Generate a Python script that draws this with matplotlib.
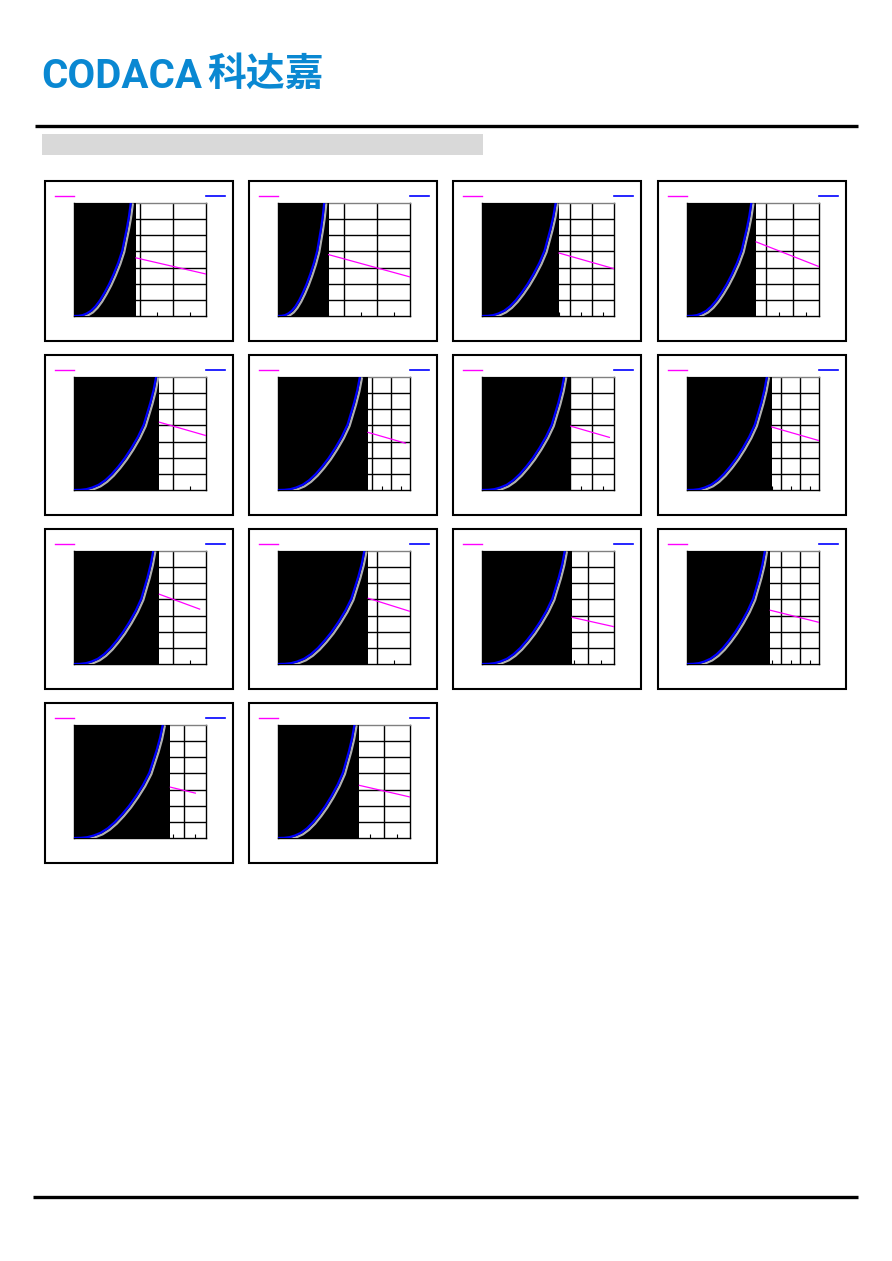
import numpy as np
import matplotlib
matplotlib.use("Agg")
import matplotlib.pyplot as plt
import matplotlib.transforms as mtransforms
from matplotlib.patches import Rectangle

# panel data (x axis 0..1, y axis 0..7 grid units)
black_end = [0.47, 0.384, 0.584, 0.524, 0.647, 0.682, 0.674, 0.643, 0.647, 0.684, 0.683, 0.631, 0.73, 0.617]
x_divs = [4, 4, 6, 5, 4, 7, 6, 7, 4, 4, 5, 7, 6, 5]
curve_top = [0.43, 0.35, 0.558, 0.487, 0.622, 0.62, 0.622, 0.605, 0.60, 0.654, 0.627, 0.59, 0.672, 0.579]
mag_start_y = [3.6, 3.8, 3.9, 4.59, 4.2, 3.57, 3.95, 3.9, 4.32, 4.07, 2.89, 3.33, 3.15, 3.26]
mag_end_x = [1.0, 1.0, 1.0, 1.0, 1.0, 0.965, 0.965, 1.0, 0.952, 1.0, 1.0, 1.0, 0.919, 1.0]
mag_end_y = [2.6, 2.42, 2.93, 3.06, 3.37, 2.9, 3.26, 3.06, 3.4, 3.26, 2.31, 2.58, 2.78, 2.54]

# shared shape of the blue curve: x as fraction of curve_top, y in grid units
shape_xf = [0, 0.08, 0.15, 0.22, 0.30, 0.38, 0.46, 0.54, 0.62, 0.70, 0.78, 0.85, 0.93, 0.97, 1.0]
shape_y = [0, 0.01, 0.05, 0.15, 0.32, 0.60, 0.98, 1.45, 1.98, 2.60, 3.30, 4.05, 5.40, 6.20, 7.0]

W, H = 892, 1261
fig = plt.figure(figsize=(W / 100, H / 100), dpi=100)
fig.patch.set_facecolor("white")

bg = fig.add_axes([0, 0, 1, 1])
bg.set_xlim(0, W)
bg.set_ylim(H, 0)
bg.axis("off")

# header
logo_blue = "#0a88d2"
bg.text(41, 88, "CODACA", color=logo_blue, fontsize=29, fontweight="bold",
        family=["Roboto", "DejaVu Sans"], va="baseline")
bg.text(207, 86, "科达嘉", color=logo_blue, fontsize=28, fontweight="bold",
        family=["Noto Sans CJK SC", "DejaVu Sans"], va="baseline")
bg.plot([35, 858], [125.5, 125.5], color="black", lw=2.4, solid_capstyle="butt")
bg.add_patch(Rectangle((42, 134), 441, 21, color="#d9d9d9", lw=0))
bg.plot([33, 858], [1197, 1197], color="black", lw=2.4, solid_capstyle="butt")

col_x = [45, 249, 453, 658]
row_y = [181, 355, 529, 703]


def px_axes(x, y, w, h):
    return fig.add_axes([x / W, 1 - (y + h) / H, w / W, h / H])


for i in range(len(black_end)):
    bx = col_x[i % 4]
    by = row_y[i // 4]
    # panel frame and legend keys
    bg.add_patch(Rectangle((bx, by), 188, 160, fill=False, ec="black", lw=1.5))
    bg.plot([bx + 10, bx + 29], [by + 15, by + 15], color="#ff00ff", lw=1)
    bg.plot([bx + 161, bx + 180], [by + 15, by + 15], color="#0000ff", lw=1.2)

    ax = px_axes(bx + 29, by + 22, 132, 113)
    ax.set_xlim(0, 1)
    ax.set_ylim(0, 7)
    n = x_divs[i]
    ax.set_xticks(np.arange(1, n) / n)
    ax.set_xticks((np.arange(n) + 0.5) / n, minor=True)
    ax.set_yticks(np.arange(1, 7))
    ax.set_xticklabels([])
    ax.set_yticklabels([])
    ax.tick_params(which="major", length=0)
    ax.tick_params(which="minor", axis="x", direction="in", length=3, width=0.8,
                   color="black", top=False)
    ax.grid(True, which="major", color="black", lw=1.0)
    ax.set_axisbelow(True)
    for s in ax.spines.values():
        s.set_zorder(0.6)
        s.set_linewidth(1.0)
    ax.spines["top"].set_color("#808080")

    b = black_end[i]
    ax.add_patch(Rectangle((0, 0), b, 7, color="black", lw=0, zorder=1))

    cx = np.array(shape_xf) * curve_top[i]
    shadow = mtransforms.offset_copy(ax.transData, fig=fig, x=2, y=-1.5, units="dots")
    ax.plot(cx, shape_y, color="#b0b0b0", lw=1.6, transform=shadow, zorder=2)
    ax.plot(cx, shape_y, color="#0000ff", lw=1.6, zorder=3)

    ax.plot([b, mag_end_x[i]], [mag_start_y[i], mag_end_y[i]], color="#ff00ff",
            lw=0.9, zorder=2)

fig.savefig("out.png", dpi=100)
